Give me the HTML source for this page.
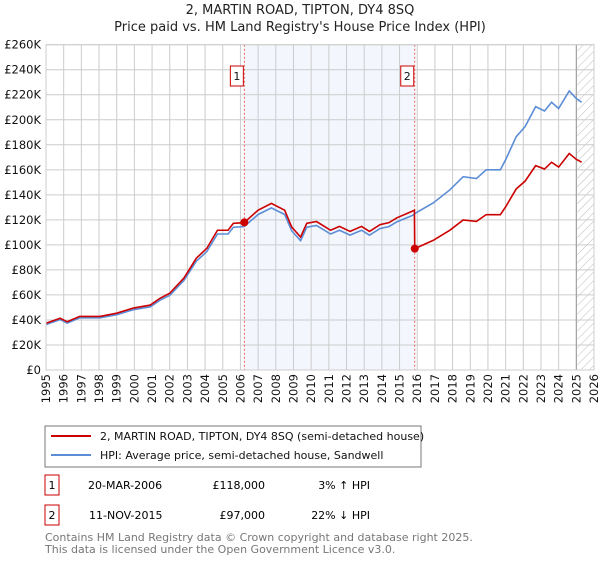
<!DOCTYPE html>
<html><head><meta charset="utf-8"><style>
body{margin:0;background:#fff;font-family:"Liberation Sans","DejaVu Sans",sans-serif}
svg text{font-family:"DejaVu Sans","Liberation Sans",sans-serif}
</style></head><body>
<svg id="c" width="600" height="560" xmlns="http://www.w3.org/2000/svg">
<defs><pattern id="hatch" width="6" height="6" patternUnits="userSpaceOnUse" patternTransform="rotate(45)"><line x1="0" y1="0" x2="0" y2="6" stroke="#bbb" stroke-width="1"/></pattern></defs>
<text x="300" y="14" text-anchor="middle" font-size="13" fill="#222">2, MARTIN ROAD, TIPTON, DY4 8SQ</text>
<text x="300" y="31" text-anchor="middle" font-size="13" fill="#222">Price paid vs. HM Land Registry's House Price Index (HPI)</text>
<g id="plot"></g>
<rect x="45" y="426" width="376" height="41" fill="#fff" stroke="#777"/>
<line x1="51" y1="436" x2="91" y2="436" stroke="#cc0000" stroke-width="2"/>
<text x="100" y="440" font-size="11" fill="#111">2, MARTIN ROAD, TIPTON, DY4 8SQ (semi-detached house)</text>
<line x1="51" y1="455" x2="91" y2="455" stroke="#5b8dd6" stroke-width="2"/>
<text x="100" y="459" font-size="11" fill="#111">HPI: Average price, semi-detached house, Sandwell</text>
<g>
<rect x="45" y="475" width="14" height="20" fill="#fff" stroke="#cc0000"/><text x="52" y="489" text-anchor="middle" font-size="11">1</text>
<text x="88" y="489" font-size="11">20-MAR-2006</text><text x="265" y="489" text-anchor="end" font-size="11">£118,000</text><text x="370" y="489" text-anchor="end" font-size="11">3% ↑ HPI</text></g>
<g>
<rect x="45" y="505" width="14" height="20" fill="#fff" stroke="#cc0000"/><text x="52" y="519" text-anchor="middle" font-size="11">2</text>
<text x="89" y="519" font-size="11">11-NOV-2015</text><text x="265" y="519" text-anchor="end" font-size="11">£97,000</text><text x="370" y="519" text-anchor="end" font-size="11">22% ↓ HPI</text></g>
<text x="45" y="541" font-size="11" fill="#777">Contains HM Land Registry data © Crown copyright and database right 2025.</text>
<text x="45" y="553" font-size="11" fill="#777">This data is licensed under the Open Government Licence v3.0.</text>
</svg>
<script>
const years=[1995,1995.8,1996.2,1996.9,1998.05,1999,1999.94,2000.9,2001.45,2002,2002.8,2003.5,2004.1,2004.7,2005.3,2005.6,2006.2,2007,2007.75,2008.5,2008.9,2009.4,2009.75,2010.3,2011.1,2011.6,2012.2,2012.85,2013.3,2013.9,2014.4,2014.85,2015.6,2015.84,2015.86,2016.9,2017.85,2018.6,2019.35,2019.9,2020.7,2021.0,2021.6,2022.1,2022.7,2023.2,2023.6,2024.0,2024.6,2025.0,2025.3];
const hpi=[36.4,40.3,37.5,41.7,41.7,44.2,48.2,50.5,55.8,59.7,71.5,86.9,94.7,108.7,108.7,114.1,114.6,124.3,129.6,124.3,111.2,103.4,114.1,115.5,108.7,111.7,107.8,111.7,107.8,113.1,114.6,118.4,122.8,124.3,125,133.5,144,154.5,153,160,160,168,186.5,194.5,210.5,207,214,209,223,217,214];
const sales=[{n:"1",year:2006.22,price:118},{n:"2",year:2015.86,price:97}];
const yTicks=[0,20,40,60,80,100,120,140,160,180,200,220,240,260];
const xTicks=[];for(let y=1995;y<=2026;y++)xTicks.push(y);
const X0=46,X1=594,Y0=370,Y1=44.7;
const x=v=>X0+(v-1995)/(2026-1995)*(X1-X0);
const y=v=>Y0-v/260*(Y0-Y1);
const NS="http://www.w3.org/2000/svg",g=document.getElementById('plot');
function mk(t,a,p){const e=document.createElementNS(NS,t);for(const k in a)e.setAttribute(k,a[k]);(p||g).appendChild(e);return e;}
function hpiAt(t){for(let i=1;i<years.length;i++)if(t<=years[i]){const f=(t-years[i-1])/(years[i]-years[i-1]);return hpi[i-1]+f*(hpi[i]-hpi[i-1]);}return hpi[hpi.length-1];}
let e;
e=mk('rect',{x:x(sales[0].year),y:Y1,width:x(sales[1].year)-x(sales[0].year),height:Y0-Y1,fill:'#f3f6fd'});


e=mk('rect',{x:x(2025.05),y:Y1,width:X1-x(2025.05),height:Y0-Y1,fill:'url(#hatch)'});


yTicks.forEach(v=>{
 e=mk('line',{x1:X0,x2:X1,y1:y(v),y2:y(v),stroke:'#cccccc'});
 
 
 e=mk('text',{x:41,y:y(v)+4,'text-anchor':'end','font-size':11.5,fill:'#111'});e.textContent='£'+(v?v+'K':'0');
 
 
});
xTicks.forEach(v=>{
 e=mk('line',{x1:x(v),x2:x(v),y1:Y1,y2:Y0,stroke:'#cccccc'});
 
 
 e=mk('text',{x:0,y:0,'text-anchor':'end','font-size':11.5,fill:'#111',transform:`translate(${x(v)+4},374) rotate(-90)`});e.textContent=v;
 
 
});
e=mk('line',{x1:x(2025.0),x2:x(2025.0),y1:Y1,y2:Y0,stroke:'#999'});


sales.forEach(s=>{
 e=mk('line',{x1:x(s.year),x2:x(s.year),y1:Y1,y2:Y0,stroke:'#e06060','stroke-dasharray':'2,2'});
 
 
});
let hp=years.map((t,i)=>x(t)+','+y(hpi[i])).join(' ');
e=mk('polyline',{points:hp,fill:'none',stroke:'#5b8dd6','stroke-width':1.6});


const f1=sales[0].price/hpiAt(sales[0].year),f2=sales[1].price/hpiAt(sales[1].year);
let rp=[];
years.forEach((t,i)=>{if(t<sales[1].year)rp.push(x(t)+','+y(hpi[i]*f1));});
rp.push(x(sales[1].year)+','+y(sales[1].price));
years.forEach((t,i)=>{if(t>sales[1].year)rp.push(x(t)+','+y(hpi[i]*f2));});
e=mk('polyline',{points:rp.join(' '),fill:'none',stroke:'#cc0000','stroke-width':1.6});


sales.forEach(s=>{
 e=mk('circle',{cx:x(s.year),cy:y(s.price),r:4,fill:'#cc0000'});
 
 
 e=mk('rect',{x:x(s.year)-14,y:66,width:13,height:20,fill:'#fff',stroke:'#cc0000'});
 
 
 e=mk('text',{x:x(s.year)-7.5,y:80,'text-anchor':'middle','font-size':11,fill:'#111'});e.textContent=s.n;
 
 
});
e=mk('rect',{x:X0,y:Y1,width:X1-X0,height:Y0-Y1,fill:'none',stroke:'#cccccc'});


</script>
</body></html>
